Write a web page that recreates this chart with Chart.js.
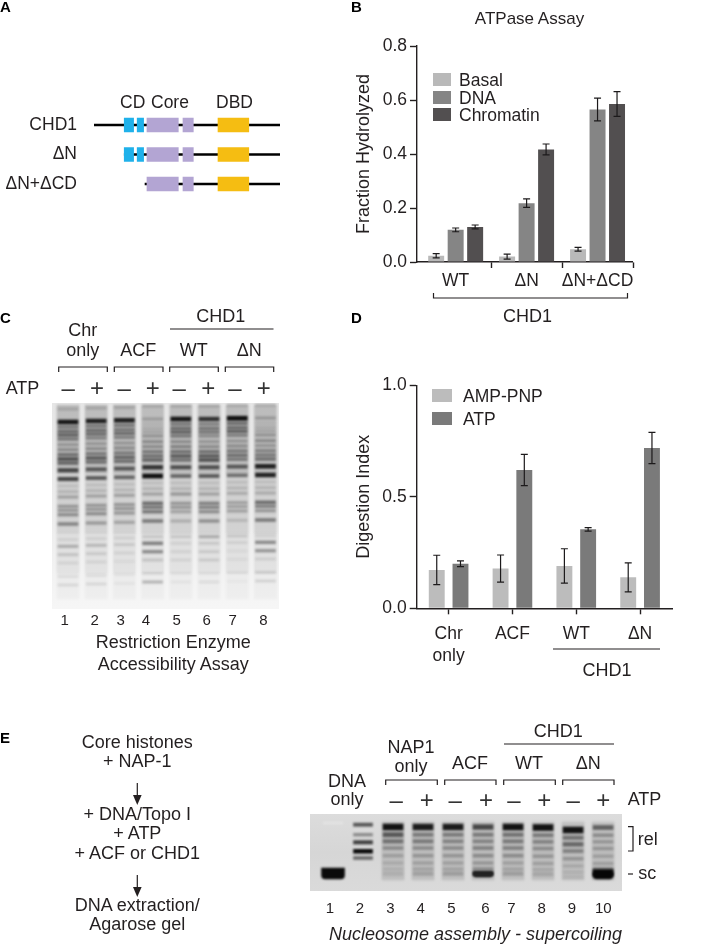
<!DOCTYPE html>
<html>
<head>
<meta charset="utf-8">
<title>CHD1 assays</title>
<script src="https://cdn.jsdelivr.net/npm/chart.js@4"></script>
<style>
  html, body { margin: 0; background: #fff; }
  #page { position: relative; width: 701px; height: 945px; overflow: hidden; font-family: "Liberation Sans", Arial, sans-serif; color: #231f20; }
  canvas { position: absolute; }
  svg { position: absolute; left: 0; top: 0; }
  svg text { font-family: "Liberation Sans", Arial, sans-serif; font-size: 18px; fill: #231f20; }
  svg .c { text-anchor: middle; }
  svg .head { font-weight: bold; font-size: 15px; fill: #000; }
  svg .num { font-size: 15px; text-anchor: middle; }
  svg .sign { font-size: 24px; text-anchor: middle; fill: #333; }
  svg path, svg line { fill: none; stroke: #231f20; stroke-width: 1.2; }
  .key { position: absolute; font-size: 17.5px; line-height: 18px; white-space: nowrap; }
  .key i { position: absolute; left: 0; top: 2px; height: 13px; }
</style>
</head>
<body>
<div id="page">
  <canvas id="domains" width="300" height="110" style="left:0;top:100px"></canvas>
  <canvas id="atpase" width="340" height="300" style="left:340px;top:30px"></canvas>
  <canvas id="digest" width="340" height="320" style="left:340px;top:370px"></canvas>
  <canvas id="gelC" width="227" height="206" style="left:52px;top:403px"></canvas>
  <canvas id="gelE" width="312" height="77" style="left:310px;top:814px"></canvas>
  <div id="keyB"></div>
  <div id="keyD"></div>

  <svg width="701" height="945">
    <text class="head" x="0" y="12">A</text>
    <text class="head" x="351" y="12">B</text>
    <text class="head" x="0" y="323">C</text>
    <text class="head" x="351" y="323">D</text>
    <text class="head" x="0" y="743">E</text>

    <!-- A -->
    <text x="120" y="108" style="font-size:17.5px">CD</text>
    <text x="151" y="108" style="font-size:17.5px">Core</text>
    <text x="216" y="108" style="font-size:17.5px">DBD</text>

    <!-- B -->
    <text class="c" x="529.5" y="24" style="font-size:17px">ATPase Assay</text>
    <path d="M433.5 293V298H627.5V293"/>
    <text class="c" x="527.5" y="322">CHD1</text>

    <!-- C -->
    <text class="c" x="82.7" y="336">Chr</text>
    <text class="c" x="82.7" y="356">only</text>
    <text class="c" x="138.3" y="356">ACF</text>
    <text class="c" x="193.7" y="356">WT</text>
    <text class="c" x="249.3" y="356">ΔN</text>
    <text class="c" x="220.7" y="322">CHD1</text>
    <line x1="170" y1="329" x2="273.5" y2="329"/>
    <path d="M58.7 372V367H107.3V372M114.3 372V367H163V372M169.7 372V367H218.3V372M225.3 372V367H273.7V372"/>
    <text x="5.7" y="393.5">ATP</text>
    <text class="sign" x="68.3" y="396">–</text><text class="sign" x="97" y="396">+</text>
    <text class="sign" x="124.3" y="396">–</text><text class="sign" x="152.7" y="396">+</text>
    <text class="sign" x="179.3" y="396">–</text><text class="sign" x="208.3" y="396">+</text>
    <text class="sign" x="235" y="396">–</text><text class="sign" x="263.7" y="396">+</text>
    <text class="num" x="64.7" y="625">1</text><text class="num" x="94.7" y="625">2</text>
    <text class="num" x="120.7" y="625">3</text><text class="num" x="146" y="625">4</text>
    <text class="num" x="176.7" y="625">5</text><text class="num" x="206.7" y="625">6</text>
    <text class="num" x="232.7" y="625">7</text><text class="num" x="263.3" y="625">8</text>
    <text class="c" x="173.3" y="648">Restriction Enzyme</text>
    <text class="c" x="173.3" y="670">Accessibility Assay</text>

    <!-- D -->
    <line x1="553" y1="649" x2="660" y2="649"/>
    <text class="c" x="607" y="676">CHD1</text>

    <!-- E left -->
    <text class="c" x="137.3" y="748">Core histones</text>
    <text class="c" x="137.3" y="767">+ NAP-1</text>
    <line x1="137.3" y1="783" x2="137.3" y2="797"/>
    <polygon points="133,795 141.6,795 137.3,805" fill="#231f20"/>
    <text class="c" x="137.3" y="820">+ DNA/Topo I</text>
    <text class="c" x="137.3" y="839">+ ATP</text>
    <text class="c" x="137.3" y="859">+ ACF or CHD1</text>
    <line x1="137.3" y1="875" x2="137.3" y2="889"/>
    <polygon points="133,887 141.6,887 137.3,897" fill="#231f20"/>
    <text class="c" x="137.3" y="911">DNA extraction/</text>
    <text class="c" x="137.3" y="930">Agarose gel</text>

    <!-- E gel labels -->
    <text class="c" x="347" y="787">DNA</text>
    <text class="c" x="347" y="805">only</text>
    <text class="c" x="411" y="753">NAP1</text>
    <text class="c" x="411" y="772">only</text>
    <text class="c" x="470" y="769">ACF</text>
    <text class="c" x="529" y="769">WT</text>
    <text class="c" x="588.3" y="769">ΔN</text>
    <text class="c" x="558.3" y="737">CHD1</text>
    <line x1="504" y1="744" x2="614" y2="744"/>
    <path d="M385.7 785V780H437.3V785M444.7 785V780H496V785M503.7 785V780H555.3V785M562.7 785V780H614V785"/>
    <text x="627.7" y="805">ATP</text>
    <text class="sign" x="396.3" y="808">–</text><text class="sign" x="426.7" y="808">+</text>
    <text class="sign" x="455.3" y="808">–</text><text class="sign" x="486" y="808">+</text>
    <text class="sign" x="514" y="808">–</text><text class="sign" x="544.3" y="808">+</text>
    <text class="sign" x="573.3" y="808">–</text><text class="sign" x="603.3" y="808">+</text>
    <path d="M628 826.7H633V851H628"/>
    <text x="637.7" y="844.5">rel</text>
    <line x1="628" y1="874" x2="633" y2="874"/>
    <text x="638.3" y="879">sc</text>
    <text class="num" x="330" y="913">1</text><text class="num" x="360" y="913">2</text>
    <text class="num" x="390.3" y="913">3</text><text class="num" x="420.7" y="913">4</text>
    <text class="num" x="451.3" y="913">5</text><text class="num" x="485.3" y="913">6</text>
    <text class="num" x="511.3" y="913">7</text><text class="num" x="541.7" y="913">8</text>
    <text class="num" x="572" y="913">9</text><text class="num" x="603.3" y="913">10</text>
    <text x="329" y="940" font-style="italic">Nucleosome assembly - supercoiling</text>
  </svg>
</div>

<script>
// ---- data ----

// panel B
var atpaseGroups = ['WT', 'ΔN', 'ΔN+ΔCD'];
var basal = [0.023, 0.020, 0.047];
var dna = [0.119, 0.218, 0.565];
var chromatin = [0.130, 0.417, 0.585];
var basalErr = [0.008, 0.009, 0.007];
var dnaErr = [0.007, 0.016, 0.042];
var chromatinErr = [0.007, 0.020, 0.046];

// panel D
var digestGroups = [['Chr', 'only'], 'ACF', 'WT', 'ΔN'];
var ampPnp = [0.172, 0.178, 0.190, 0.139];
var atp = [0.200, 0.620, 0.354, 0.719];
var ampPnpErr = [0.066, 0.061, 0.077, 0.065];
var atpErr = [0.013, 0.070, 0.008, 0.070];

// panel A, residue ranges along the protein
var constructs = ['CHD1', 'ΔN', 'ΔN+ΔCD'];
var backbone = [[1, 1711], [279, 1711], [470, 1711]];
var chromo1 = [[279, 365], [279, 365], null];
var chromo2 = [[398, 457], [398, 457], null];
var core1 = [[488, 776], [488, 776], [488, 776]];
var core2 = [[819, 914], [819, 914], [819, 914]];
var dbd = [[1141, 1424], [1141, 1424], [1141, 1424]];

// panel C gel: band positions (distance from top) and strength per lane
var gelCBands = [6, 19, 24, 28.3, 32, 36, 41.7, 46.7, 51.7, 56, 60, 67.3, 76, 83, 88.7, 94, 103.3, 107.3, 111.7, 121, 136.7, 143.3, 151.7, 160, 173.3, 182];
var gelCDrift = [0, -1, -1.7, -3, -3, -3, -3.7, -4];
var gelCLane1 = [.15, .95, .4, .45, .5, .4, .25, .3, .45, .6, .5, .7, .7, .1, .15, .25, .3, .3, .35, .4, .08, .25, .15, .08, .08, .1];
var gelCLane2 = [.15, .9, .4, .45, .45, .35, .25, .3, .4, .55, .45, .6, .6, .1, .15, .25, .3, .3, .35, .3, .08, .2, .12, .08, .08, .1];
var gelCLane3 = [.15, .9, .4, .4, .45, .35, .25, .3, .4, .5, .45, .6, .55, .1, .15, .25, .3, .3, .3, .25, .08, .12, .08, .05, .05, .05];
var gelCLane4 = [.15, .2, .08, .12, .15, .25, .3, .3, .4, .45, .5, .8, 1, .1, .15, .25, .5, .45, .45, .45, .12, .45, .4, .15, .1, .25];
var gelCLane5 = [.15, .95, .4, .45, .5, .4, .3, .35, .45, .55, .45, .65, .55, .1, .15, .3, .3, .3, .25, .2, .12, .08, .08, .08, .05, .05];
var gelCLane6 = [.15, .8, .35, .4, .4, .3, .25, .3, .45, .55, .6, .65, .6, .1, .15, .25, .4, .4, .35, .35, .25, .12, .12, .12, .05, .08];
var gelCLane7 = [.15, 1, .45, .45, .5, .35, .25, .3, .4, .45, .4, .6, .5, .1, .15, .2, .25, .25, .25, .15, .12, .08, .05, .05, .05, .03];
var gelCLane8 = [.15, .22, .08, .12, .15, .25, .3, .25, .35, .4, .45, .9, .9, .1, .15, .2, .5, .4, .3, .45, .08, .4, .35, .1, .12, .12];

// panel E gel
var gelEBands = [13, 20.7, 27.3, 34, 41.7, 49, 55, 59.7];
var gelEDrift = [0, 0, 0, 0, 0, 0, 0, 0.5, 3, 0.5];
var gelELane3 = [1, .6, .45, .3, .2, .14, .1, .1];
var gelELane4 = [.95, .4, .4, .3, .25, .2, .18, .18];
var gelELane5 = [.95, .4, .35, .3, .25, .2, .18, .2];
var gelELane6 = [.7, .4, .35, .35, .3, .25, .3, 1];
var gelELane7 = [1, .45, .4, .35, .3, .2, .18, .2];
var gelELane8 = [1, .4, .35, .3, .25, .2, .15, .15];
var gelELane9 = [1, .45, .5, .35, .25, .15, .1, .07];
var gelELane10 = [.55, .3, .25, .25, .2, .2, .4, 1];
var gelEMarkerBands = [10.7, 20.7, 28.3, 37.3, 44];
var gelEMarker = [.6, .35, .7, .95, .5];

var ink = '#231f20';
var axisFont = { family: 'Liberation Sans', size: 17.5 };
var titleFont = { family: 'Liberation Sans', size: 18 };

// fixes the plot rectangle so the axes land where they should
function fixScale(size) {
  return function (scale) {
    if (scale.isHorizontal()) scale.height = size; else scale.width = size;
    scale.paddingLeft = scale.paddingRight = scale.paddingTop = scale.paddingBottom = 0;
  };
}

var errorBars = {
  id: 'errorBars',
  afterDatasetsDraw: function (chart, args, opts) {
    var ctx = chart.ctx, y = chart.scales.y;
    ctx.save();
    ctx.strokeStyle = '#1c1a1b';
    ctx.lineWidth = 1.2;
    opts.errors.forEach(function (errs, d) {
      chart.getDatasetMeta(d).data.forEach(function (bar, i) {
        var v = chart.data.datasets[d].data[i];
        v = v.y !== undefined ? v.y : v;
        var hi = y.getPixelForValue(v + errs[i]), lo = y.getPixelForValue(v - errs[i]);
        ctx.beginPath();
        ctx.moveTo(bar.x, hi); ctx.lineTo(bar.x, lo);
        ctx.moveTo(bar.x - 3.5, hi); ctx.lineTo(bar.x + 3.5, hi);
        ctx.moveTo(bar.x - 3.5, lo); ctx.lineTo(bar.x + 3.5, lo);
        ctx.stroke();
      });
    });
    ctx.restore();
  }
};

function yAxis(max, step, width, title) {
  return {
    min: 0, max: max,
    afterFit: fixScale(width),
    border: { color: ink, width: 1.4 },
    grid: { drawOnChartArea: false, tickColor: ink, tickLength: 7, tickWidth: 1.4 },
    ticks: { stepSize: step, color: ink, font: axisFont, padding: 3, callback: function (v) { return v.toFixed(1); } },
    title: { display: true, text: title, color: ink, font: titleFont, padding: { top: 13, bottom: 0 } }
  };
}

// panel B
new Chart(document.getElementById('atpase'), {
  type: 'bar',
  data: {
    datasets: [
      { data: basal.map(function (v, i) { return { x: i + 1, y: v }; }), backgroundColor: '#b9b9b9' },
      { data: dna.map(function (v, i) { return { x: i + 1, y: v }; }), backgroundColor: '#858585' },
      { data: chromatin.map(function (v, i) { return { x: i + 1, y: v }; }), backgroundColor: '#524f50' }
    ]
  },
  options: {
    responsive: false, animation: false, devicePixelRatio: 1,
    // the half-unit ticks set the bar ruler, so this is relative to half a group
    categoryPercentage: 1.648, barPercentage: 0.82,
    layout: { padding: { top: 16, right: 47.2, bottom: 0, left: 0 } },
    plugins: { legend: { display: false }, tooltip: { enabled: false },
      errorBars: { errors: [basalErr, dnaErr, chromatinErr] } },
    scales: {
      x: {
        type: 'linear', min: 0.455, max: 3.497, offset: false,
        afterFit: fixScale(68),
        afterBuildTicks: function (s) { s.ticks = [1, 1.5, 2, 2.5, 3, 3.5].map(function (v) { return { value: v }; }); },
        border: { color: ink, width: 1.4 },
        grid: { drawOnChartArea: false, offset: false, tickLength: 6, tickWidth: 1.4,
          tickColor: function (c) { return c.tick && Number.isInteger(c.tick.value) ? 'rgba(0,0,0,0)' : ink; } },
        ticks: { color: ink, font: axisFont, padding: 3, autoSkip: false, maxRotation: 0, minRotation: 0,
          callback: function (v) { return Number.isInteger(v) ? atpaseGroups[v - 1] : ''; } }
      },
      y: yAxis(0.8, 0.2, 77, 'Fraction Hydrolyzed')
    }
  },
  plugins: [errorBars]
});

// panel D
new Chart(document.getElementById('digest'), {
  type: 'bar',
  data: {
    labels: digestGroups,
    datasets: [
      { data: ampPnp, backgroundColor: '#bcbcbc' },
      { data: atp, backgroundColor: '#7a7a7a' }
    ]
  },
  options: {
    responsive: false, animation: false, devicePixelRatio: 1,
    categoryPercentage: 0.744, barPercentage: 0.67,
    layout: { padding: { top: 15.3, right: 8, bottom: 0, left: 0 } },
    plugins: { legend: { display: false }, tooltip: { enabled: false },
      errorBars: { errors: [ampPnpErr, atpErr] } },
    scales: {
      x: {
        afterFit: fixScale(81.7),
        border: { color: ink, width: 1.4 },
        grid: { drawOnChartArea: false, offset: false, tickColor: ink, tickLength: 6, tickWidth: 1.4 },
        ticks: { color: ink, font: { family: 'Liberation Sans', size: 17.5, lineHeight: 1.25 }, padding: 9, maxRotation: 0, minRotation: 0 }
      },
      y: yAxis(1, 0.5, 76.7, 'Digestion Index')
    }
  },
  plugins: [errorBars]
});

// panel A
function domainSet(ranges, color) {
  return { data: ranges, backgroundColor: color, barThickness: 14 };
}
new Chart(document.getElementById('domains'), {
  type: 'bar',
  data: {
    labels: constructs,
    datasets: [
      domainSet(chromo1, '#1fb1ea'),
      domainSet(chromo2, '#1fb1ea'),
      domainSet(core1, '#b3a5d3'),
      domainSet(core2, '#b3a5d3'),
      domainSet(dbd, '#f5bd12'),
      { data: backbone, backgroundColor: '#000', barThickness: 2 }
    ]
  },
  options: {
    indexAxis: 'y', responsive: false, animation: false, devicePixelRatio: 1,
    layout: { padding: { top: 10.25, right: 20, bottom: 11.25, left: 0 } },
    plugins: { legend: { display: false }, tooltip: { enabled: false } },
    datasets: { bar: { grouped: false } },
    scales: {
      x: { type: 'linear', min: 1, max: 1711, display: false },
      y: {
        afterFit: fixScale(94),
        border: { display: false },
        grid: { display: false },
        ticks: { color: ink, font: axisFont, padding: 9 }
      }
    }
  }
});

// gels: every band is a floating bar on a lane / migration axis
var softBands = {
  id: 'softBands',
  beforeDraw: function (chart, args, opts) {
    var a = chart.chartArea, ctx = chart.ctx;
    var g = ctx.createLinearGradient(0, a.top, 0, a.bottom);
    opts.stops.forEach(function (s) { g.addColorStop(s[0], s[1]); });
    ctx.fillStyle = g;
    ctx.fillRect(a.left, a.top, a.width, a.height);
  },
  beforeDatasetsDraw: function (chart, args, opts) {
    chart.ctx.save();
    chart.ctx.filter = 'blur(' + opts.blur + 'px)';
  },
  afterDatasetsDraw: function (chart) { chart.ctx.restore(); }
};

function gelOptions(xMin, xMax, yMax, blur, stops) {
  return {
    responsive: false, animation: false, devicePixelRatio: 1,
    datasets: { bar: { grouped: false } },
    plugins: { legend: { display: false }, tooltip: { enabled: false }, softBands: { blur: blur, stops: stops } },
    scales: {
      x: { type: 'linear', min: xMin, max: xMax, offset: false, display: false },
      y: { min: 0, max: yMax, reverse: true, display: false }
    }
  };
}

// panel C
var gelCLanes = [gelCLane1, gelCLane2, gelCLane3, gelCLane4, gelCLane5, gelCLane6, gelCLane7, gelCLane8];
var gelCSets = [];
gelCBands.forEach(function (pos, b) {
  gelCSets.push({
    barThickness: 20,
    data: gelCLanes.map(function (lane, l) {
      var half = 0.9 + lane[b] * 1.2;
      return { x: l + 1, y: [pos + gelCDrift[l] - half, pos + gelCDrift[l] + half] };
    }),
    backgroundColor: gelCLanes.map(function (lane) { return 'rgba(15,15,15,' + lane[b] + ')'; })
  });
});
// lane background smear, later datasets sit under the bands
var gelCSmear = [[2, 70, .22], [70, 130, .14], [130, 170, .08], [170, 196, .03]];
gelCSmear.forEach(function (s) {
  gelCSets.push({
    barThickness: 22,
    data: gelCLanes.map(function (lane, l) { return { x: l + 1, y: [s[0], s[1]] }; }),
    backgroundColor: 'rgba(40,40,40,' + s[2] + ')'
  });
});
new Chart(document.getElementById('gelC'), {
  type: 'bar',
  data: { datasets: gelCSets },
  options: gelOptions(0.433, 8.48, 206, 1.2, [[0, '#e6e6e6'], [0.6, '#eeeeee'], [1, '#f6f6f6']]),
  plugins: [softBands]
});

// panel E
var gelELanes = [gelELane3, gelELane4, gelELane5, gelELane6, gelELane7, gelELane8, gelELane9, gelELane10];
var gelESets = [];
// supercoiled blobs on lanes 1, 6 and 10
gelESets.push({ barThickness: 23, borderRadius: 4, backgroundColor: '#0a0a0a', data: [{ x: 1, y: [54, 65] }] });
gelESets.push({ barThickness: 19, borderRadius: 3, backgroundColor: '#222', data: [{ x: 6, y: [57.5, 63] }] });
gelESets.push({ barThickness: 20, borderRadius: 4, backgroundColor: '#060606', data: [{ x: 10, y: [55.5, 65] }] });
gelESets.push({ barThickness: 20, backgroundColor: 'rgba(255,255,255,.25)', data: [{ x: 1, y: [8, 10] }] });
gelEBands.forEach(function (pos, b) {
  gelESets.push({
    barThickness: 20,
    data: gelELanes.map(function (lane, l) {
      var half = 0.9 + lane[b] * 2.1;
      if (b === 7) half = 1.8;
      return { x: l + 3, y: [pos + gelEDrift[l + 2] - half, pos + gelEDrift[l + 2] + half] };
    }),
    backgroundColor: gelELanes.map(function (lane) { return 'rgba(0,0,0,' + (lane[b] * 0.9) + ')'; })
  });
});
gelEMarkerBands.forEach(function (pos, b) {
  gelESets.push({
    barThickness: 19,
    backgroundColor: 'rgba(0,0,0,' + gelEMarker[b] + ')',
    data: [{ x: 2, y: [pos - 1 - gelEMarker[b], pos + 1 + gelEMarker[b]] }]
  });
});
// lane smear under the ladder
gelESets.push({
  barThickness: 22,
  backgroundColor: 'rgba(60,60,60,.16)',
  data: [3, 4, 5, 6, 7, 8, 9, 10].map(function (l) { return { x: l, y: [8, 66] }; })
});
new Chart(document.getElementById('gelE'), {
  type: 'bar',
  data: { datasets: gelESets },
  options: gelOptions(0.233, 10.63, 77, 1.1, [[0, '#dcdcdc'], [0.5, '#d6d6d6'], [1, '#dadada']]),
  plugins: [softBands]
});

// legends
function buildKey(holder, names, colors, left, tops, swatchWidth, textLeft) {
  names.forEach(function (name, i) {
    var row = document.createElement('div');
    row.className = 'key';
    row.style.left = left + 'px';
    row.style.top = tops[i] + 'px';
    row.style.paddingLeft = textLeft + 'px';
    row.textContent = name;
    var sw = document.createElement('i');
    sw.style.width = swatchWidth + 'px';
    sw.style.background = colors[i];
    row.appendChild(sw);
    holder.appendChild(row);
  });
}
buildKey(document.getElementById('keyB'), ['Basal', 'DNA', 'Chromatin'], ['#b9b9b9', '#858585', '#524f50'], 433, [71, 89, 106], 18, 26);
buildKey(document.getElementById('keyD'), ['AMP-PNP', 'ATP'], ['#bcbcbc', '#7a7a7a'], 432, [387, 410], 20, 31);
</script>
</body>
</html>
